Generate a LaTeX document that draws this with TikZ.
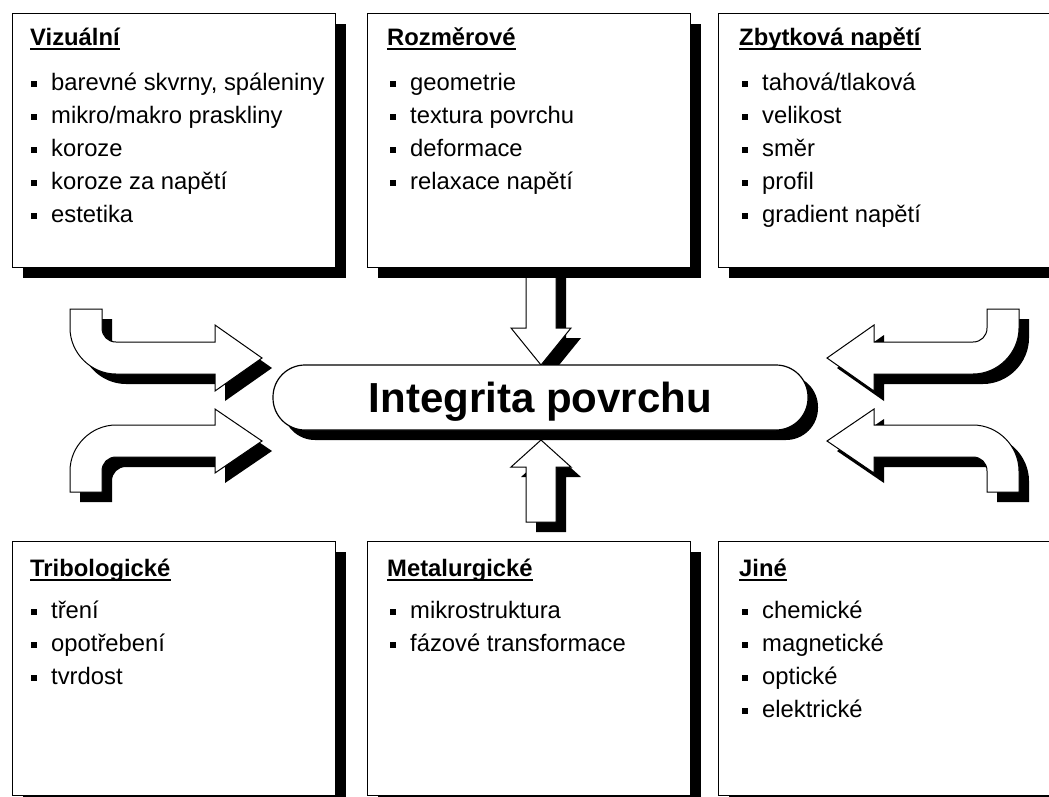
\documentclass[tikz,border=0pt]{standalone}
\usepackage{fontspec}
\setmainfont{Liberation Sans}
\usetikzlibrary{shadows}

\newcommand{\sqbul}{\makebox[20pt][l]{\rule[3pt]{6pt}{6pt}}}

\begin{document}
\begin{tikzpicture}[x=1pt, y=-1pt,
        box/.style={draw, fill=white, line width=1.2pt, anchor=north west, inner sep=0pt,
            minimum width=323pt, minimum height=254pt,
            drop shadow={shadow xshift=10pt, shadow yshift=-10pt, fill=black, opacity=1}},
        heading/.style={anchor=base west, inner sep=0pt, font=\fontsize{23.8}{28}\selectfont\bfseries},
        bitem/.style={anchor=base west, inner sep=0pt, font=\fontsize{23.8}{28}\selectfont},
        fatarrow/.style={draw, fill=white, line width=1pt, line join=miter,
            drop shadow={shadow xshift=10pt, shadow yshift=-10pt, fill=black, opacity=1}}]

                \useasboundingbox (0,0) rectangle (1049,796);
                \clip (0,0) rectangle (1049,796);

                % arrows into the middle
                \draw[fatarrow] (526,265) -- (556,265) -- (556,328) -- (571,328)
                    -- (541,365) -- (511,328) -- (526,328) -- cycle;
                \draw[fatarrow] (526,522) -- (556,522) -- (556,467) -- (571,467)
                    -- (541,440) -- (511,467) -- (526,467) -- cycle;

                \draw[fatarrow] (70,309) -- (102,309) -- (102,328)
                    .. controls (102,336) and (108,342) .. (116,342)
                    -- (215,342) -- (215,325) -- (262,358) -- (215,391) -- (215,374)
                    -- (116,374) .. controls (91,374) and (70,353) .. (70,328) -- cycle;
                \draw[fatarrow] (70,492) -- (102,492) -- (102,471)
                    .. controls (102,463) and (108,457) .. (116,457)
                    -- (215,457) -- (215,473) -- (262,441) -- (215,409) -- (215,425)
                    -- (116,425) .. controls (91,425) and (70,446) .. (70,471) -- cycle;

                \draw[fatarrow] (1019,309) -- (987,309) -- (987,328)
                    .. controls (987,336) and (981,342) .. (973,342)
                    -- (874,342) -- (874,325) -- (827,358) -- (874,391) -- (874,374)
                    -- (973,374) .. controls (998,374) and (1019,353) .. (1019,328) -- cycle;
                \draw[fatarrow] (1019,492) -- (987,492) -- (987,471)
                    .. controls (987,463) and (981,457) .. (973,457)
                    -- (874,457) -- (874,473) -- (827,441) -- (874,409) -- (874,425)
                    -- (973,425) .. controls (998,425) and (1019,446) .. (1019,471) -- cycle;

                % middle
                \node[draw, fill=white, line width=1.2pt, rounded corners=32pt, inner sep=0pt,
                    minimum width=535pt, minimum height=65pt, text height=30pt, text depth=0pt,
                    font=\fontsize{42}{50}\selectfont\bfseries,
                    drop shadow={shadow xshift=10pt, shadow yshift=-10pt, fill=black, opacity=1}]
                    (integ) at (540.5,397.5) {Integrita povrchu};

                % top row
                \node[box] (viz) at (12,13) {};
                \node[heading] (viz-t) at (30,45) {Vizuální};
                \foreach \txt [count=\i] in {{barevné skvrny, spáleniny}, mikro/makro praskliny,
                        koroze, koroze za napětí, estetika}
                    \node[bitem] (viz-\i) at (31,{57+33*\i}) {\sqbul\txt};

                \node[box] (rozm) at (367,13) {};
                \node[heading] (rozm-t) at (387,45) {Rozměrové};
                \foreach \txt [count=\i] in {geometrie, textura povrchu, deformace, relaxace napětí}
                    \node[bitem] (rozm-\i) at (390,{57+33*\i}) {\sqbul\txt};

                \node[box, minimum width=345pt] (zbyt) at (718,13) {};
                \node[heading] (zbyt-t) at (739,45) {Zbytková napětí};
                \foreach \txt [count=\i] in {tahová/tlaková, velikost, směr, profil, gradient napětí}
                    \node[bitem] (zbyt-\i) at (742,{57+33*\i}) {\sqbul\txt};

                % bottom row
                \node[box] (trib) at (12,541) {};
                \node[heading] (trib-t) at (30,576) {Tribologické};
                \foreach \txt [count=\i] in {tření, opotřebení, tvrdost}
                    \node[bitem] (trib-\i) at (31,{585+33*\i}) {\sqbul\txt};

                \node[box] (metal) at (367,541) {};
                \node[heading] (metal-t) at (387,576) {Metalurgické};
                \foreach \txt [count=\i] in {mikrostruktura, fázové transformace}
                    \node[bitem] (metal-\i) at (390,{585+33*\i}) {\sqbul\txt};

                \node[box, minimum width=345pt] (jine) at (718,541) {};
                \node[heading] (jine-t) at (739,576) {Jiné};
                \foreach \txt [count=\i] in {chemické, magnetické, optické, elektrické}
                    \node[bitem] (jine-\i) at (742,{585+33*\i}) {\sqbul\txt};

                \foreach \n in {viz, rozm, zbyt, trib, metal, jine}
                    \draw[line width=2pt] ([yshift=-4pt]\n-t.base west) -- ([yshift=-4pt]\n-t.base east);
\end{tikzpicture}
\end{document}
